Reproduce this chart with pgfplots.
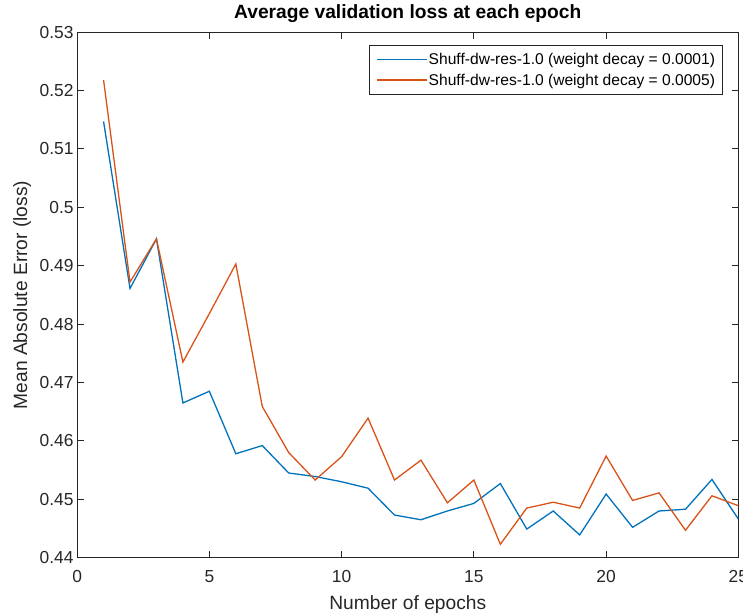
\documentclass[border=0pt]{standalone}
\usepackage{pgfplots}
\pgfplotsset{compat=1.18}
\usepackage{fontspec}
\setmainfont{Liberation Sans}
\definecolor{mblue}{rgb}{0,0.447,0.741}
\definecolor{morange}{rgb}{0.85,0.325,0.098}
\definecolor{axgray}{rgb}{0.15,0.15,0.15}
\pgfplotstableread{
ep blue red
1 0.5147 0.5218
2 0.4861 0.4872
3 0.4946 0.4946
4 0.4665 0.4735
5 0.4685 0.4818
6 0.4578 0.4903
7 0.4592 0.4659
8 0.4545 0.4580
9 0.4539 0.4533
10 0.4530 0.4573
11 0.4519 0.4639
12 0.4473 0.4533
13 0.4465 0.4567
14 0.4480 0.4494
15 0.4493 0.4533
16 0.4527 0.4423
17 0.4449 0.4485
18 0.4480 0.4495
19 0.4439 0.4485
20 0.4509 0.4574
21 0.4452 0.4498
22 0.4480 0.4511
23 0.4483 0.4447
24 0.4534 0.4506
25 0.4466 0.4489
}\datatable
\begin{document}
\begin{tikzpicture}
\begin{axis}[
  at={(77.1bp,55.3bp)}, anchor=south west,
  scale only axis, width=661.3bp, height=525.6bp,
  xmin=0, xmax=25, ymin=0.44, ymax=0.53,
  xtick={0,5,10,15,20,25},
  ytick={0.44,0.45,0.46,0.47,0.48,0.49,0.50,0.51,0.52,0.53},
  /pgf/number format/assume math mode=true,
  yticklabel style={/pgf/number format/fixed, /pgf/number format/precision=2},
  ticklabel style={font=\fontsize{17.4bp}{20bp}\selectfont, text=axgray},
  xticklabel style={anchor=base, yshift=-25bp},
  axis line style={axgray, line width=0.9bp},
  every tick/.style={axgray, line width=0.9bp},
  major tick length=6.6bp,
  tick align=inside,
  legend style={at={(0.9767,0.9755)}, anchor=north east,
    draw=axgray, line width=0.9bp,
    font=\fontsize{15.6bp}{16bp}\selectfont,
    inner xsep=6bp, inner ysep=6bp, row sep=5bp,
    nodes={inner sep=1.5bp}},
  legend cell align=left,
  legend image code/.code={\draw[#1] (0bp,0bp) -- (50bp,0bp);},
]
\addplot[mblue, line width=1.3bp] table[x=ep, y=blue] {\datatable};
\addlegendentry{Shuff-dw-res-1.0 (weight decay = 0.0001)}
\addplot[morange, line width=1.3bp] table[x=ep, y=red] {\datatable};
\addlegendentry{Shuff-dw-res-1.0 (weight decay = 0.0005)}
\end{axis}
\node[anchor=base, font=\bfseries\fontsize{19.2bp}{22bp}\selectfont] at (407.8bp, 594bp) {Average validation loss at each epoch};
\node[anchor=base, font=\fontsize{19.2bp}{22bp}\selectfont, text=axgray] at (407.8bp, 4bp) {Number of epochs};
\node[anchor=base, rotate=90, font=\fontsize{19.2bp}{22bp}\selectfont, text=axgray] at (27bp, 318bp) {Mean Absolute Error (loss)};
\pgfresetboundingbox
\path[use as bounding box] (0,0) rectangle (743bp,613bp);
\end{tikzpicture}
\end{document}
